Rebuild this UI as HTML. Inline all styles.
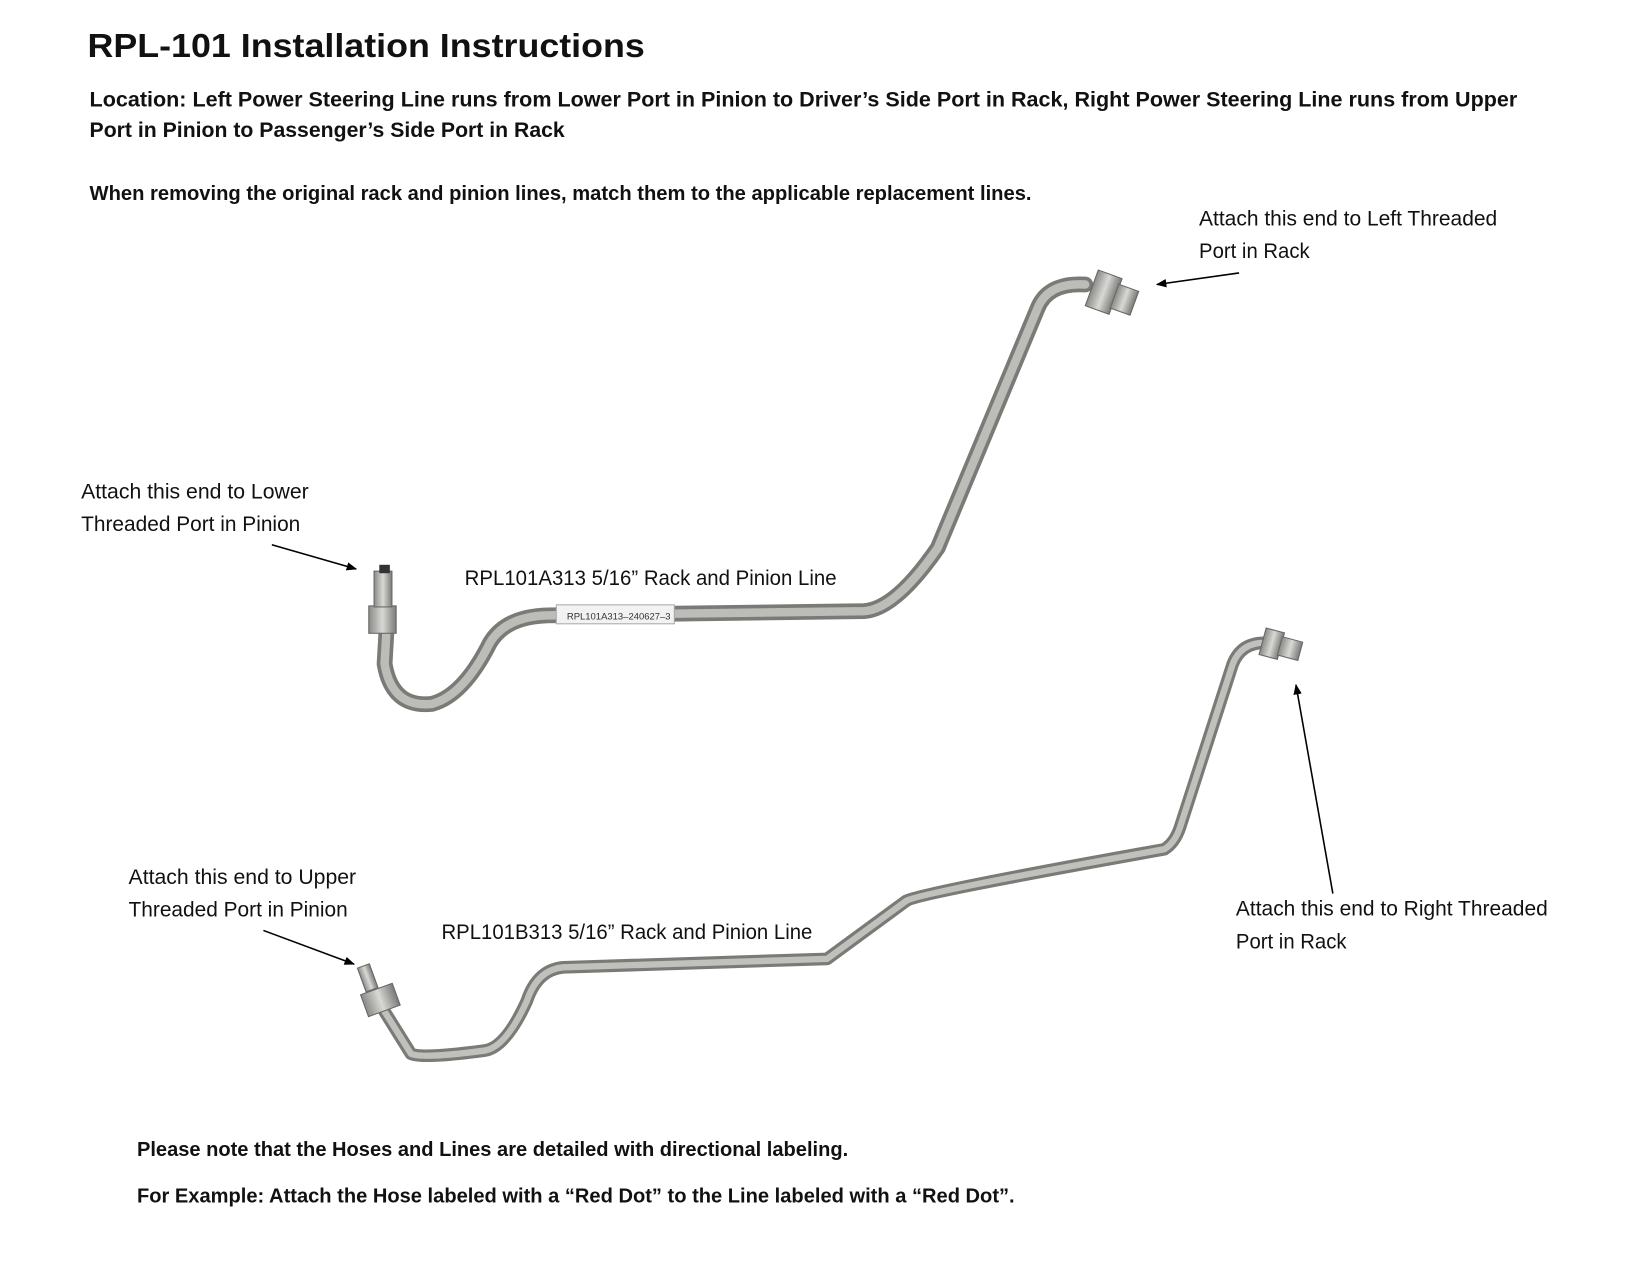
<!DOCTYPE html>
<html><head><meta charset="utf-8"><style>html,body{margin:0;padding:0;background:#fff}svg{display:block}</style></head>
<body>
<svg width="1650" height="1275" viewBox="0 0 1566 1210" preserveAspectRatio="none" xmlns="http://www.w3.org/2000/svg">
<defs>
<marker id="ah" markerWidth="10" markerHeight="8" refX="9" refY="4" orient="auto" markerUnits="userSpaceOnUse"><path d="M0,0 L10,4 L0,8 z" fill="#000"/></marker>
<linearGradient id="nut" x1="0" x2="1"><stop offset="0" stop-color="#8a8a88"/><stop offset=".5" stop-color="#d8d8d4"/><stop offset="1" stop-color="#7a7a78"/></linearGradient>
</defs>
<g font-family="'Liberation Sans', sans-serif" fill="#111">
<text x="83" y="54" font-size="32" font-weight="bold" textLength="529" lengthAdjust="spacingAndGlyphs">RPL-101 Installation Instructions</text>
<text x="85" y="101" font-size="20" font-weight="bold" textLength="1355" lengthAdjust="spacingAndGlyphs">Location: Left Power Steering Line runs from Lower Port in Pinion to Driver’s Side Port in Rack, Right Power Steering Line runs from Upper</text>
<text x="85" y="130" font-size="20" font-weight="bold" textLength="451" lengthAdjust="spacingAndGlyphs">Port in Pinion to Passenger’s Side Port in Rack</text>
<text x="85" y="190" font-size="19" font-weight="bold" textLength="894" lengthAdjust="spacingAndGlyphs">When removing the original rack and pinion lines, match them to the applicable replacement lines.</text>
<g font-size="20">
<text x="1138" y="214" textLength="283" lengthAdjust="spacingAndGlyphs">Attach this end to Left Threaded</text>
<text x="1138" y="245" textLength="105" lengthAdjust="spacingAndGlyphs">Port in Rack</text>
<text x="77" y="473" textLength="216" lengthAdjust="spacingAndGlyphs">Attach this end to Lower</text>
<text x="77" y="504" textLength="208" lengthAdjust="spacingAndGlyphs">Threaded Port in Pinion</text>
<text x="441" y="555" textLength="353" lengthAdjust="spacingAndGlyphs">RPL101A313 5/16” Rack and Pinion Line</text>
<text x="122" y="839" textLength="216" lengthAdjust="spacingAndGlyphs">Attach this end to Upper</text>
<text x="122" y="870" textLength="208" lengthAdjust="spacingAndGlyphs">Threaded Port in Pinion</text>
<text x="419" y="891" textLength="352" lengthAdjust="spacingAndGlyphs">RPL101B313 5/16” Rack and Pinion Line</text>
<text x="1173" y="869" textLength="296" lengthAdjust="spacingAndGlyphs">Attach this end to Right Threaded</text>
<text x="1173" y="900" textLength="105" lengthAdjust="spacingAndGlyphs">Port in Rack</text>
</g>
<text x="130" y="1097" font-size="19" font-weight="bold" textLength="675" lengthAdjust="spacingAndGlyphs">Please note that the Hoses and Lines are detailed with directional labeling.</text>
<text x="130" y="1141" font-size="19" font-weight="bold" textLength="833" lengthAdjust="spacingAndGlyphs">For Example: Attach the Hose labeled with a “Red Dot” to the Line labeled with a “Red Dot”.</text>
</g>
<g fill="none" stroke-linecap="round" stroke-linejoin="round">
<path d="M367,595 L365,630 Q372,672 410,668 Q440,660 465,610 Q480,585 520,584 L820,580 Q850,578 890,520 L985,292 Q995,268 1030,270" stroke="#7a7a76" stroke-width="15"/>
<path d="M367,595 L365,630 Q372,672 410,668 Q440,660 465,610 Q480,585 520,584 L820,580 Q850,578 890,520 L985,292 Q995,268 1030,270" stroke="#bcbcb8" stroke-width="8"/>
<path d="M365,960 L390,1000 Q400,1005 460,997 Q480,994 500,950 Q510,920 535,918 L785,910 L860,855 Q870,848 1105,806 Q1115,800 1120,785 L1170,630 Q1178,610 1200,610" stroke="#7a7a76" stroke-width="12"/>
<path d="M365,960 L390,1000 Q400,1005 460,997 Q480,994 500,950 Q510,920 535,918 L785,910 L860,855 Q870,848 1105,806 Q1115,800 1120,785 L1170,630 Q1178,610 1200,610" stroke="#c0c0bc" stroke-width="6"/>
</g>
<rect x="528" y="574" width="112" height="18" fill="#f2f2f2" stroke="#aaa"/>
<text x="538" y="588" font-family="'Liberation Sans',sans-serif" font-size="9" fill="#333">RPL101A313–240627–3</text>
<rect x="350" y="575" width="26" height="26" fill="url(#nut)" stroke="#666"/>
<rect x="355" y="542" width="17" height="34" fill="url(#nut)" stroke="#666"/>
<rect x="360" y="536" width="10" height="8" fill="#333"/>
<g transform="rotate(20 1055 280)"><rect x="1035" y="262" width="24" height="36" fill="url(#nut)" stroke="#666"/><rect x="1058" y="268" width="20" height="24" fill="url(#nut)" stroke="#666"/></g>
<rect x="345" y="938" width="32" height="22" fill="url(#nut)" stroke="#666" transform="rotate(-20 361 949)"/>
<rect x="343" y="916" width="12" height="24" fill="url(#nut)" stroke="#666" transform="rotate(-20 349 928)"/>
<g transform="rotate(15 1215 612)"><rect x="1198" y="600" width="18" height="26" fill="url(#nut)" stroke="#666"/><rect x="1215" y="604" width="20" height="18" fill="url(#nut)" stroke="#666"/></g>
<g stroke="#000" stroke-width="1.5" marker-end="url(#ah)">
<line x1="258" y1="517" x2="338" y2="540"/>
<line x1="1176" y1="259" x2="1098" y2="270"/>
<line x1="250" y1="883" x2="336" y2="915"/>
<line x1="1265" y1="848" x2="1230" y2="650"/>
</g>
</svg>
</body></html>
